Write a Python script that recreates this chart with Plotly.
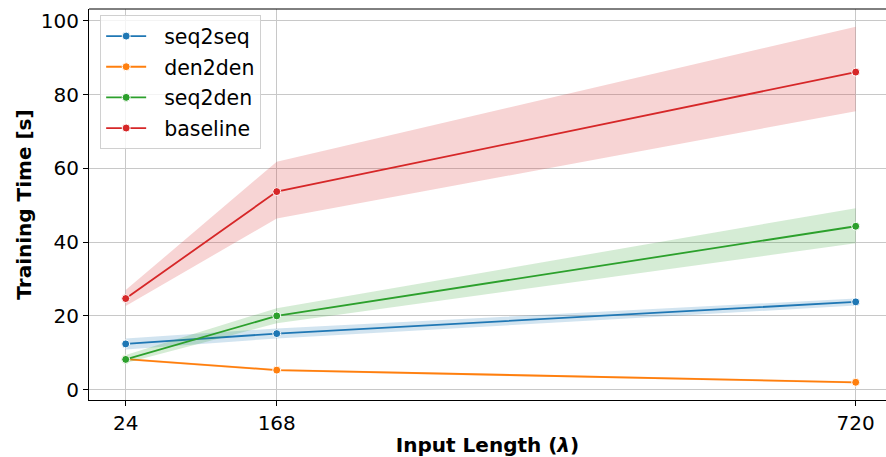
import plotly.graph_objects as go

x_vals = [24, 168, 720]
series_names = ["seq2seq", "den2den", "seq2den", "baseline"]
colors = ["#1f77b4", "#ff7f0e", "#2ca02c", "#d62728"]
band_colors = ["rgba(31,119,180,0.2)", "rgba(255,127,14,0.2)",
               "rgba(44,160,44,0.2)", "rgba(214,39,40,0.2)"]

seq2seq_mean = [12.4, 15.2, 23.8]
seq2seq_low = [10.9, 13.9, 22.8]
seq2seq_high = [13.9, 16.6, 24.7]

den2den_mean = [8.3, 5.3, 2.0]
den2den_low = [8.0, 5.0, 1.7]
den2den_high = [8.6, 5.6, 2.3]

seq2den_mean = [8.2, 20.0, 44.3]
seq2den_low = [7.2, 18.0, 39.7]
seq2den_high = [9.4, 22.1, 49.2]

baseline_mean = [24.7, 53.7, 86.1]
baseline_low = [22.7, 46.4, 75.5]
baseline_high = [27.0, 61.8, 98.4]

means = [seq2seq_mean, den2den_mean, seq2den_mean, baseline_mean]
lows = [seq2seq_low, den2den_low, seq2den_low, baseline_low]
highs = [seq2seq_high, den2den_high, seq2den_high, baseline_high]

y_ticks = [0, 20, 40, 60, 80, 100]

FONT = "DejaVu Sans"

fig = go.Figure()
for name, c, bc, m, lo, hi in zip(series_names, colors, band_colors, means, lows, highs):
    fig.add_trace(go.Scatter(
        x=x_vals + x_vals[::-1], y=hi + lo[::-1],
        fill="toself", fillcolor=bc, line=dict(width=0),
        mode="lines", showlegend=False, hoverinfo="skip", legendgroup=name))
    fig.add_trace(go.Scatter(
        x=x_vals, y=m, name="\u00a0\u00a0" + name, mode="lines+markers", legendgroup=name,
        line=dict(color=c, width=1.8),
        marker=dict(size=8, color=c, line=dict(color="white", width=1))))

fig.update_layout(
    width=886, height=457,
    margin=dict(l=89, r=0, t=9, b=57),
    plot_bgcolor="white", paper_bgcolor="white",
    font=dict(family=FONT, size=20, color="black"),
    showlegend=True,
    legend=dict(
        x=0.014, y=0.984, xanchor="left", yanchor="top",
        bgcolor="rgba(255,255,255,0.8)", bordercolor="#d0d0d0", borderwidth=1,
        font=dict(family=FONT, size=20.5), tracegroupgap=1, itemwidth=40),
    xaxis=dict(
        range=[-11, 748.9], tickvals=x_vals, ticktext=[str(v) for v in x_vals],
        showgrid=True, gridcolor="#c8c8c8", gridwidth=1,
        showline=True, linecolor="black", linewidth=1,
        ticks="outside", ticklen=5, tickcolor="black", zeroline=False,
        title=dict(text="<b>Input Length (<i>λ</i>)</b>", standoff=8,
                   font=dict(family=FONT, size=20))),
    yaxis=dict(
        range=[-2.8, 103.2], tickvals=y_ticks,
        showgrid=True, gridcolor="#c8c8c8", gridwidth=1,
        showline=True, linecolor="black", linewidth=1,
        ticks="outside", ticklen=5, tickcolor="black", zeroline=False,
        title=dict(text="<b>Training Time [s]</b>", standoff=3,
                   font=dict(family=FONT, size=20))),
    shapes=[dict(type="line", xref="paper", yref="paper", x0=0, x1=1, y0=1, y1=1,
                 line=dict(color="black", width=1))],
)

fig.write_html("out.html")
